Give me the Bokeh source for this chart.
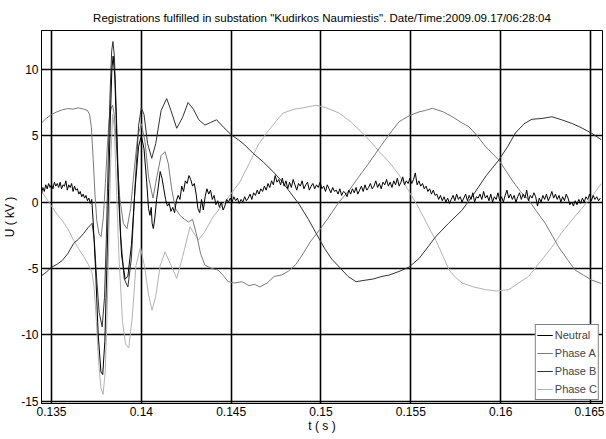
from bokeh.plotting import figure
from bokeh.models import Range1d, FixedTicker, Legend, LegendItem
from bokeh.embed import file_html
from bokeh.resources import INLINE

TITLE = 'Registrations fulfilled in substation "Kudirkos Naumiestis". Date/Time:2009.09.17/06:28:04'
X_LABEL = "t ( s )"
Y_LABEL = "U ( kV )"
X_TICKS = [0.135, 0.14, 0.145, 0.15, 0.155, 0.16, 0.165]
X_TICK_LABELS = ["0.135", "0.14", "0.145", "0.15", "0.155", "0.16", "0.165"]
Y_TICKS = [-15, -10, -5, 0, 5, 10]
Y_TICK_LABELS = ["-15", "-10", "-5", "0", "5", "10"]
SERIES = ["Neutral", "Phase A", "Phase B", "Phase C"]

# Phase A (s, kV)
PHASE_A_T = [0.13440, 0.13470, 0.13500, 0.13530, 0.13560, 0.13590, 0.13620, 0.13650, 0.13680, 0.13700,
             0.13712, 0.13722, 0.13732, 0.13742, 0.13752, 0.13764, 0.13776, 0.13788, 0.13800, 0.13810,
             0.13820, 0.13830, 0.13840, 0.13850, 0.13860, 0.13870, 0.13880, 0.13900, 0.13920, 0.13940,
             0.13960, 0.13980, 0.14000, 0.14020, 0.14040, 0.14065, 0.14085, 0.14110, 0.14132, 0.14150,
             0.14170, 0.14190, 0.14215, 0.14240, 0.14262, 0.14285, 0.14310, 0.14330, 0.14354, 0.14390,
             0.14428, 0.14460, 0.14483, 0.14520, 0.14560, 0.14600, 0.14630, 0.14660, 0.14700, 0.14740,
             0.14780, 0.14820, 0.14860, 0.14900, 0.14940, 0.14992, 0.15040, 0.15100, 0.15158, 0.15210,
             0.15270, 0.15324, 0.15380, 0.15435, 0.15490, 0.15546, 0.15580, 0.15620, 0.15680, 0.15731,
             0.15780, 0.15823, 0.15870, 0.15916, 0.15990, 0.16063, 0.16110, 0.16156, 0.16200, 0.16248,
             0.16290, 0.16322, 0.16370, 0.16415, 0.16460, 0.16507, 0.16560]
PHASE_A_KV = [5.9, 6.3, 6.6, 6.8, 6.95, 7.05, 7.0, 7.1, 7.0, 6.9,
              6.6, 5.6, 3.2, 0.6, -1.4, -2.4, -2.6, -1.2, 1.4, 4.0,
              6.1, 7.0, 7.3, 6.5, 4.6, 2.3, 0.3, -1.6, -2.0, -0.5,
              2.4, 5.0, 5.9, 4.6, 1.9, 0.3, 1.8, 3.5, 3.8, 2.9,
              0.9, -0.5, -1.0, -1.3, -1.5, -1.3, -2.6, -3.9, -4.75, -5.0,
              -5.13, -5.6, -6.0, -6.1, -6.0, -6.3, -6.2, -6.4, -6.1, -5.6,
              -5.5, -5.2, -4.7, -3.9, -3.0, -2.1, -1.2, 0.0, 0.9, 1.9,
              3.0, 4.05, 5.1, 6.06, 6.5, 6.8, 6.9, 7.07, 6.8, 6.43,
              6.0, 5.68, 5.0, 4.17, 3.17, 1.66, 0.8, 0.15, -0.7, -1.6,
              -2.6, -3.37, -4.3, -5.13, -5.5, -5.88, -6.13]

# Phase B (s, kV)
PHASE_B_T = [0.13440, 0.13470, 0.13500, 0.13530, 0.13560, 0.13590, 0.13624, 0.13650, 0.13679, 0.13705,
             0.13726, 0.13738, 0.13750, 0.13765, 0.13782, 0.13795, 0.13805, 0.13815, 0.13825, 0.13835,
             0.13842, 0.13850, 0.13860, 0.13870, 0.13885, 0.13905, 0.13925, 0.13945, 0.13965, 0.13985,
             0.14000, 0.14015, 0.14035, 0.14058, 0.14080, 0.14110, 0.14141, 0.14165, 0.14197, 0.14230,
             0.14260, 0.14290, 0.14320, 0.14354, 0.14385, 0.14419, 0.14460, 0.14502, 0.14540, 0.14576,
             0.14620, 0.14680, 0.14733, 0.14780, 0.14830, 0.14880, 0.14930, 0.14973, 0.15020, 0.15060,
             0.15102, 0.15150, 0.15195, 0.15240, 0.15290, 0.15340, 0.15380, 0.15440, 0.15490, 0.15546,
             0.15600, 0.15639, 0.15710, 0.15786, 0.15850, 0.15920, 0.15990, 0.16040, 0.16082, 0.16130,
             0.16174, 0.16230, 0.16285, 0.16340, 0.16396, 0.16450, 0.16507, 0.16560]
PHASE_B_KV = [-5.6, -5.3, -4.9, -4.7, -4.4, -3.9, -3.1, -2.8, -2.36, -1.9,
              -1.6, -2.8, -5.5, -8.3, -9.4, -7.2, -2.8, 2.8, 7.8, 11.4,
              12.1, 11.0, 7.2, 2.6, -2.6, -5.8, -6.4, -4.2, 1.2, 5.8,
              7.1, 6.6, 4.4, 3.3, 4.4, 6.9, 7.8, 6.9, 5.56, 6.4,
              7.5, 7.0, 6.2, 5.8, 6.0, 6.2, 5.6, 5.05, 4.7, 4.3,
              3.7, 3.0, 2.3, 1.6, 0.7, -0.2, -1.3, -2.36, -3.5, -4.3,
              -4.9, -5.6, -6.0, -5.9, -5.8, -5.6, -5.5, -5.2, -4.9, -4.25,
              -3.3, -2.6, -1.6, -0.6, 0.6, 2.0, 3.17, 4.2, 5.2, 5.9,
              6.24, 6.3, 6.43, 6.2, 5.93, 5.6, 5.18, 4.7]

# Phase C (s, kV)
PHASE_C_T = [0.13440, 0.13470, 0.13500, 0.13530, 0.13560, 0.13590, 0.13624, 0.13650, 0.13679, 0.13705,
             0.13725, 0.13738, 0.13750, 0.13762, 0.13775, 0.13787, 0.13799, 0.13810, 0.13820, 0.13830,
             0.13840, 0.13850, 0.13860, 0.13875, 0.13895, 0.13912, 0.13930, 0.13950, 0.13970, 0.13995,
             0.14020, 0.14040, 0.14060, 0.14080, 0.14105, 0.14132, 0.14160, 0.14197, 0.14230, 0.14271,
             0.14295, 0.14317, 0.14350, 0.14400, 0.14465, 0.14520, 0.14548, 0.14600, 0.14650, 0.14696,
             0.14750, 0.14788, 0.14850, 0.14900, 0.14973, 0.15030, 0.15102, 0.15170, 0.15232, 0.15280,
             0.15324, 0.15380, 0.15435, 0.15490, 0.15546, 0.15600, 0.15639, 0.15680, 0.15712, 0.15750,
             0.15786, 0.15850, 0.15916, 0.15980, 0.16045, 0.16100, 0.16156, 0.16220, 0.16285, 0.16340,
             0.16396, 0.16450, 0.16507, 0.16560]
PHASE_C_KV = [0.9, 0.3, -0.3, -0.9, -1.4, -2.0, -2.9, -3.5, -4.1, -4.7,
              -5.3, -6.5, -9.0, -12.0, -14.0, -14.5, -12.8, -8.2, -2.2, 3.2,
              6.6, 5.6, 1.6, -4.0, -9.0, -10.7, -11.0, -8.6, -4.8, -3.4,
              -5.0, -7.0, -8.15, -7.1, -4.8, -3.75, -4.6, -5.75, -4.1, -1.86,
              -2.4, -2.87, -2.3, -1.1, 0.0, 1.0, 1.5, 2.9, 4.3, 5.18,
              6.1, 6.7, 7.0, 7.1, 7.3, 7.1, 6.7, 6.0, 5.18, 4.5,
              3.8, 3.0, 2.04, 0.8, -0.48, -1.9, -2.87, -4.1, -5.1, -5.7,
              -6.1, -6.4, -6.6, -6.7, -6.6, -6.1, -5.6, -4.5, -3.4, -2.3,
              -1.36, -0.5, 0.4, 1.4]

# Neutral: pre-fault samples (every 0.08 ms from 0.13444 s)
NEUTRAL_PRE_START = 0.13444
NEUTRAL_PRE_STEP = 0.00008
NEUTRAL_PRE_KV = [0.6, 1.1, 0.8, 1.3, 1.0, 1.4, 1.1, 1.3, 1.0, 1.5,
                  1.2, 1.4, 1.1, 1.5, 1.0, 1.3, 1.2, 1.6, 0.9, 1.3,
                  1.1, 1.4, 0.8, 1.2, 0.9, 1.0, 0.6, 0.8, 0.4, 0.6,
                  0.3, 0.5, 0.1, 0.3, -0.1, 0.2]
# Neutral: fault transient (irregular samples)
NEUTRAL_FAULT_T = [0.13732, 0.13745, 0.13760, 0.13775, 0.13785, 0.13797, 0.13808, 0.13818, 0.13828, 0.13836,
                   0.13843, 0.13852, 0.13862, 0.13873, 0.13890, 0.13910, 0.13925, 0.13945, 0.13965, 0.13985,
                   0.14000, 0.14015, 0.14030, 0.14040, 0.14048, 0.14055, 0.14060, 0.14067, 0.14075, 0.14085]
NEUTRAL_FAULT_KV = [-1.5, -5.0, -10.0, -12.8, -13.0, -10.5, -5.0, 1.0, 6.5, 10.0,
                    11.0, 9.5, 5.5, 0.5, -4.0, -5.8, -5.6, -3.2, 1.0, 4.2,
                    5.0, 4.0, 1.5, -0.5, -1.0, -0.4, -1.6, -2.0, -1.2, 0.2]
# Neutral: post-fault samples (every 0.1 ms from 0.14095 s)
NEUTRAL_POST_START = 0.14095
NEUTRAL_POST_STEP = 0.0001
NEUTRAL_POST_KV = [1.2, 2.3, 1.8, 1.0, 0.2, -0.3, -0.1, -0.7, -0.4, -0.8,
                   0.1, 0.5, 0.2, 1.2, 0.8, 1.6, 1.4, 2.0, 1.7, 1.2,
                   1.4, 0.6, -0.5, -0.8, 0.2, -0.6, 0.4, 1.0, 0.6, 0.9,
                   0.2, 0.5, -0.2, 0.1, -0.4, 0.0, -0.6, -0.3, 0.2, 0.0,
                   0.3, 0.0, 0.4, 0.1, 0.3, -0.1, 0.2, 0.0, 0.4, 0.1,
                   0.3, 0.6, 0.2, 0.7, 0.5, 0.9, 0.6, 1.0, 0.8, 1.2,
                   0.9, 1.4, 1.1, 1.6, 1.3, 2.0, 1.5, 1.7, 1.3, 1.8,
                   1.2, 1.6, 1.0, 1.5, 1.1, 1.7, 1.3, 0.9, 1.4, 1.2,
                   1.6, 1.0, 1.3, 1.5, 0.9, 1.2, 1.4, 1.0, 1.3, 1.1,
                   1.5, 1.0, 1.2, 0.8, 1.3, 1.0, 0.7, 1.1, 0.8, 0.9,
                   0.6, 1.0, 0.5, 0.8, 0.7, 0.4, 0.9, 0.6, 1.0, 0.7,
                   1.1, 0.6, 0.9, 1.2, 0.8, 1.3, 0.9, 1.1, 1.4, 1.0,
                   1.2, 1.6, 1.1, 1.4, 1.0, 1.5, 1.3, 1.7, 1.2, 1.5,
                   1.1, 1.6, 1.3, 1.8, 1.2, 1.5, 1.9, 1.3, 1.6, 1.4,
                   1.8, 1.4, 1.7, 2.2, 1.3, 1.6, 1.2, 1.4, 1.0, 1.2,
                   0.8, 1.0, 0.6, 0.9, 0.5, 0.6, 0.2, 0.5, 0.1, 0.4,
                   0.0, 0.3, -0.1, 0.2, 0.5, 0.1, 0.6, 0.2, 0.4, 0.0,
                   0.3, 0.6, 0.1, 0.5, 0.2, 0.7, 0.0, 0.4, 0.3, 0.6,
                   0.2, 0.8, 0.3, 0.5, 0.1, 0.6, 0.0, 0.4, 0.2, 0.7,
                   0.1, 0.4, 0.0, 0.5, 0.9, 0.3, 0.6, 0.2, 0.5, 0.0,
                   0.4, 0.7, 0.2, 0.6, 0.3, 0.9, 0.1, 0.5, 0.3, 0.7,
                   0.4, -0.3, 0.3, 0.0, 0.5, 0.2, 0.6, 0.1, 0.4, 0.8,
                   0.3, 0.6, 0.2, 0.5, 0.0, 0.4, 0.1, 0.6, 0.3, -0.2,
                   0.0, -0.3, 0.1, -0.2, 0.2, -0.1, 0.3, 0.0, 0.4, 0.2,
                   0.6, 0.1, 0.5, 0.2, 0.4, 0.1, 0.3]

COLORS = {"Neutral": "#000000", "Phase A": "#7a7a7a", "Phase B": "#333333", "Phase C": "#b2b2b2"}
FONT = "Liberation Sans"

neutral_t = ([NEUTRAL_PRE_START + i * NEUTRAL_PRE_STEP for i in range(len(NEUTRAL_PRE_KV))]
             + NEUTRAL_FAULT_T
             + [NEUTRAL_POST_START + i * NEUTRAL_POST_STEP for i in range(len(NEUTRAL_POST_KV))])
neutral_v = NEUTRAL_PRE_KV + NEUTRAL_FAULT_KV + NEUTRAL_POST_KV

data = {
    "Neutral": (neutral_t, neutral_v),
    "Phase A": (PHASE_A_T, PHASE_A_KV),
    "Phase B": (PHASE_B_T, PHASE_B_KV),
    "Phase C": (PHASE_C_T, PHASE_C_KV),
}

p = figure(width=604, height=437,
           x_range=Range1d(0.134443, 0.165669), y_range=Range1d(-15.18, 12.93),
           output_backend="svg", toolbar_location=None,
           min_border_left=41, min_border_right=2, min_border_top=30, min_border_bottom=34)
p.background_fill_color = "white"
p.border_fill_color = "white"
p.outline_line_color = "black"
p.outline_line_width = 1

p.title.text = TITLE
p.title.align = "center"
p.title.text_font = FONT
p.title.text_font_size = "11.5px"
p.title.text_font_style = "normal"
p.title.text_color = "black"
p.title.standoff = 13

p.xaxis.ticker = FixedTicker(ticks=X_TICKS)
p.yaxis.ticker = FixedTicker(ticks=Y_TICKS)
p.xaxis.major_label_overrides = dict(zip(X_TICKS, X_TICK_LABELS))
p.yaxis.major_label_overrides = dict(zip(Y_TICKS, Y_TICK_LABELS))
p.xaxis.axis_label = X_LABEL
p.yaxis.axis_label = Y_LABEL
for ax in (p.xaxis, p.yaxis):
    ax.axis_line_color = "black"
    ax.major_tick_line_color = "black"
    ax.major_tick_in = 4
    ax.major_tick_out = 0
    ax.minor_tick_line_color = None
    ax.major_label_text_font = FONT
    ax.major_label_text_font_size = "12px"
    ax.major_label_text_color = "black"
    ax.axis_label_text_font = FONT
    ax.axis_label_text_font_size = "12px"
    ax.axis_label_text_font_style = "normal"
    ax.axis_label_text_color = "black"
p.xaxis.major_label_standoff = 3
p.yaxis.major_label_standoff = 3
p.xaxis.axis_label_standoff = 0
p.yaxis.axis_label_standoff = 1

p.grid.grid_line_color = "black"
p.grid.grid_line_width = 1.6
p.grid.grid_line_alpha = 1.0

renderers = {}
for name in ["Phase C", "Phase A", "Phase B", "Neutral"]:
    t, v = data[name]
    renderers[name] = p.line(t, v, line_color=COLORS[name], line_width=1)

legend = Legend(items=[LegendItem(label=n, renderers=[renderers[n]]) for n in SERIES],
                location="bottom_right")
legend.border_line_color = "black"
legend.border_line_width = 1
legend.background_fill_color = "white"
legend.background_fill_alpha = 1
legend.padding = 1
legend.spacing = 0
legend.margin = 3
legend.glyph_width = 16
legend.glyph_height = 18
legend.label_height = 18
legend.label_standoff = 2
legend.label_text_font = FONT
legend.label_text_font_size = "11px"
p.add_layout(legend)

open("out.html", "w").write(file_html(p, INLINE))
